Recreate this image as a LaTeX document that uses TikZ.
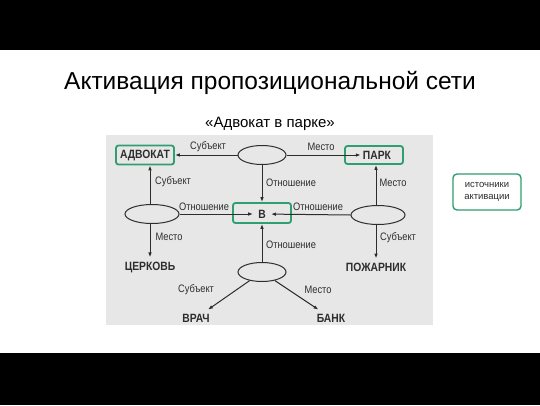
\documentclass[tikz,border=0pt]{standalone}
\usepackage{fontspec}
\setmainfont{Liberation Sans}
\newfontfamily\narrowfont[FakeStretch=0.86]{Liberation Sans}
\usetikzlibrary{shapes.geometric,arrows.meta}
\definecolor{actgreen}{RGB}{47,158,112}
\definecolor{scangray}{RGB}{231,231,231}
\definecolor{ink}{RGB}{45,45,45}

\begin{document}
\begin{tikzpicture}[x=1pt,y=-1pt,
    prop/.style={ellipse,draw=ink,line width=1pt,minimum width=48pt,minimum height=19pt,inner sep=0pt},
    concept/.style={font=\narrowfont\fontsize{12}{13}\selectfont\bfseries,text=ink,inner sep=4pt},
    srcbox/.style={draw=actgreen,line width=1.8pt,rounded corners=2.5pt},
    rel/.style={font=\narrowfont\fontsize{10.8}{11}\selectfont,text=ink,inner sep=0pt},
    link/.style={draw=ink,line width=1pt,-{Latex[length=5pt,width=3.6pt]}}]
        % frame
        \useasboundingbox (0,0) rectangle (540,405);
        \fill[white] (0,0) rectangle (540,405);
        \fill[black] (0,0) rectangle (540,50);
        \fill[black] (0,353) rectangle (540,405);
        \fill[scangray] (106,135) rectangle (433,325);

        % titles
        \node[anchor=base,font=\fontsize{24.5}{28}\selectfont] (title) at (270,89) {Активация пропозициональной сети};
        \node[anchor=base,font=\fontsize{15}{17}\selectfont] (subtitle) at (270,127) {«Адвокат в парке»};

        % propositions
        \node[prop] (top) at (262,155) {};
        \node[prop,minimum width=54pt] (left) at (152,214) {};
        \node[prop,minimum width=54pt] (right) at (378,215) {};
        \node[prop] (bottom) at (262,272) {};

        % concepts
        \node[concept,srcbox,inner sep=2pt,minimum width=58pt,minimum height=19pt] (advokat) at (145,155) {АДВОКАТ};
        \node[srcbox,minimum width=58pt,minimum height=18pt] (parkbox) at (374,155) {};
        \node[concept,inner sep=2pt] (park) at (377,155) {ПАРК};
        \node[srcbox,minimum width=58pt,minimum height=20pt] (bbox) at (262,213) {};
        \node[concept,inner sep=5pt] (btxt) at (262,214) {В};
        \node[concept] (church) at (150,267) {ЦЕРКОВЬ};
        \node[concept] (fireman) at (376,267) {ПОЖАРНИК};
        \node[concept] (doctor) at (196,318) {ВРАЧ};
        \node[concept] (bank) at (331,318) {БАНК};

        % connectors
        \draw[link] (top) -- (advokat);
        \draw[link] (top) -- (park);
        \draw[link] (top) -- (bbox);
        \draw[link] (church |- left.north) -- (church |- advokat.south);
        \draw[link] (left) -- (btxt);
        \draw[link] (church |- left.south) -- (church);
        \draw[link] (fireman |- right.north) -- (fireman |- parkbox.south);
        \draw[link] (right.west) -- (btxt);
        \draw[link] (fireman |- right.south) -- (fireman);
        \draw[link] (bottom) -- (bbox);
        \draw[link] (bottom) -- (doctor);
        \draw[link] (bottom) -- (bank);

        % relation labels
        \node[rel] (subjtop) at (208,147) {Субъект};
        \node[rel] (loctop) at (321,147) {Место};
        \node[rel] (reltop) at (291,183) {Отношение};
        \node[rel] (subjleft) at (173,182) {Субъект};
        \node[rel] (relleft) at (204,207) {Отношение};
        \node[rel] (locleft) at (169,237) {Место};
        \node[rel] (locright) at (393,183) {Место};
        \node[rel] (relright) at (318,207) {Отношение};
        \node[rel] (subjright) at (398,238) {Субъект};
        \node[rel] (relbottom) at (291,245) {Отношение};
        \node[rel] (subjbottom) at (196,290) {Субъект};
        \node[rel] (locbottom) at (318,290) {Место};

        % legend
        \node[draw=actgreen,line width=1.4pt,rounded corners=4pt,minimum width=68pt,minimum height=36pt,
              align=center,text=ink,font=\fontsize{9.5}{12}\selectfont] (legend) at (487,192) {источники\\активации};
\end{tikzpicture}
\end{document}
